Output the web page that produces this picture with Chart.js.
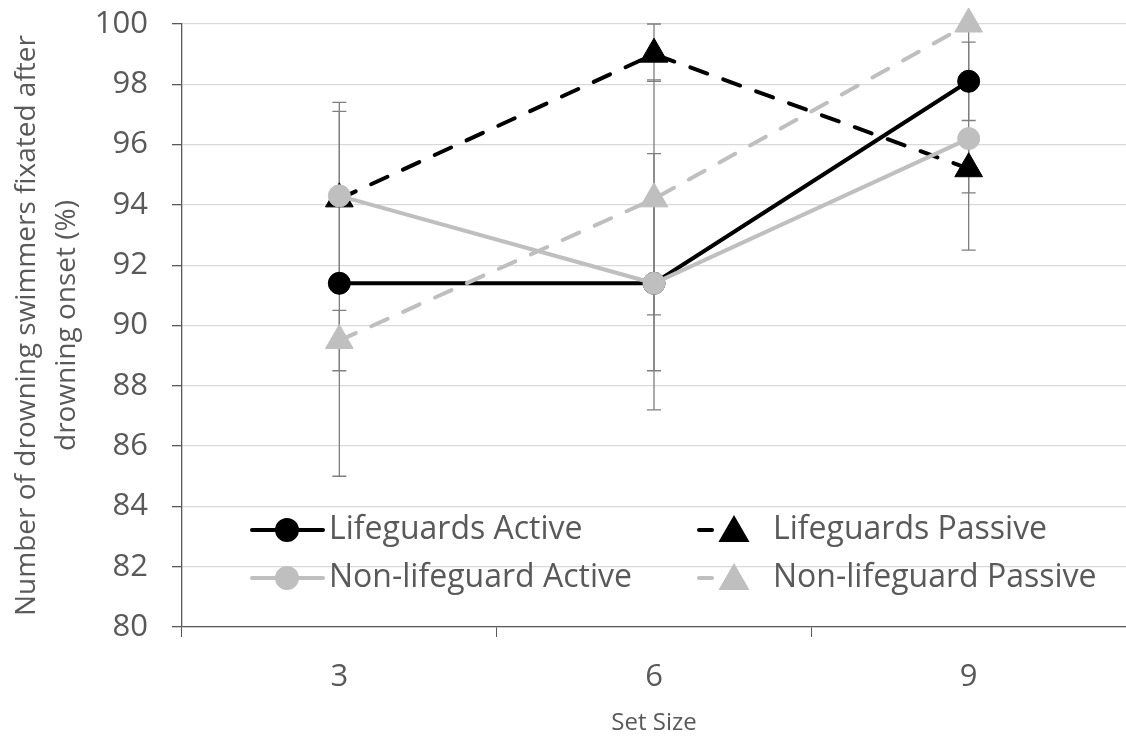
<!DOCTYPE html>
<html>
<head>
<meta charset="utf-8">
<script src="https://cdn.jsdelivr.net/npm/chart.js@4/dist/chart.umd.min.js"></script>
<style>
  html, body { margin: 0; padding: 0; background: #fff; overflow: hidden; }
  #wrap { width: 1126px; height: 740px; }
  canvas { display: block; }
</style>
</head>
<body>
<div id="wrap"><canvas id="chart" width="1126" height="740"></canvas></div>
<script>
// data
const setSizes = ['3', '6', '9'];
const yTicks = [80, 100, 2]; // min, max, step

const lifeguardsActive = [91.4, 91.4, 98.1];
const lifeguardsPassive = [94.2, 99.0, 95.2];
const nonLifeguardActive = [94.3, 91.4, 96.2];
const nonLifeguardPassive = [89.5, 94.2, 100];

// error bar ends (low / high)
const laLow = [85.0, 87.2, 96.8];
const laHigh = [97.4, 95.7, 99.4];
const lpLow = [94.2, 98.1, 94.4];
const lpHigh = [94.2, 100, 96.0];
const naLow = [91.5, 88.5, 92.5];
const naHigh = [97.1, 94.3, 99.9];
const npLow = [88.5, 90.35, 100];
const npHigh = [90.5, 98.15, 100];

const BLACK = '#000000';
const GREY = '#bfbfbf';
const TEXT = '#595959';
const FONT = "'Open Sans', sans-serif";

const errors = [
    { low: laLow, high: laHigh },
    { low: lpLow, high: lpHigh },
    { low: naLow, high: naHigh },
    { low: npLow, high: npHigh }
];

// error bars drawn underneath the lines
const errorBars = {
    id: 'errorBars',
    beforeDatasetsDraw(chart) {
        const { ctx, scales: { x, y } } = chart;
        ctx.save();
        ctx.strokeStyle = '#7f7f7f';
        ctx.lineWidth = 1.3;
        errors.forEach(e => {
            e.low.forEach((lo, i) => {
                const px = x.getPixelForValue(i);
                const yl = y.getPixelForValue(lo);
                const yh = y.getPixelForValue(e.high[i]);
                ctx.beginPath();
                ctx.moveTo(px, yl); ctx.lineTo(px, yh);
                ctx.moveTo(px - 7, yl); ctx.lineTo(px + 7, yl);
                ctx.moveTo(px - 7, yh); ctx.lineTo(px + 7, yh);
                ctx.stroke();
            });
        });
        ctx.restore();
    }
};

// legend inside the plot, two columns
const insideLegend = {
    id: 'insideLegend',
    afterDraw(chart) {
        const ctx = chart.ctx;
        const items = [
            { text: 'Lifeguards Active', color: BLACK, dash: false, style: 'circle', x: 250, tx: 329, y: 530 },
            { text: 'Lifeguards Passive', color: BLACK, dash: true, style: 'triangle', x: 697, tx: 773, y: 530 },
            { text: 'Non-lifeguard Active', color: GREY, dash: false, style: 'circle', x: 250, tx: 329, y: 578 },
            { text: 'Non-lifeguard Passive', color: GREY, dash: true, style: 'triangle', x: 697, tx: 773, y: 578 }
        ];
        ctx.save();
        items.forEach(it => {
            ctx.strokeStyle = it.color;
            ctx.fillStyle = it.color;
            ctx.lineWidth = 4;
            ctx.lineCap = 'round';
            ctx.beginPath();
            if (it.dash) {
                ctx.moveTo(it.x + 2, it.y); ctx.lineTo(it.x + 15, it.y);
            } else {
                ctx.moveTo(it.x + 2, it.y); ctx.lineTo(it.x + 73, it.y);
            }
            ctx.stroke();
            const cx = it.x + 37;
            Chart.helpers.drawPoint(ctx, {
                pointStyle: it.style, radius: it.style === 'circle' ? 10 : 14,
                borderWidth: 1, rotation: 0
            }, cx, it.style === 'circle' ? it.y : it.y + 3);
            ctx.fillStyle = TEXT;
            ctx.font = '32px ' + FONT;
            ctx.textBaseline = 'middle';
            ctx.textAlign = 'left';
            ctx.fillText(it.text, it.tx, it.y);
        });
        ctx.restore();
    }
};

const lineSet = (label, data, color, dashed, style, order) => ({
    label,
    data,
    borderColor: color,
    backgroundColor: color,
    borderWidth: 4,
    borderDash: dashed ? [18, 17] : [],
    borderCapStyle: dashed ? 'round' : 'butt',
    pointStyle: style,
    pointRadius: style === 'circle' ? 11 : 16,
    pointBorderWidth: 1,
    pointBackgroundColor: color,
    pointBorderColor: color,
    tension: 0,
    clip: false,
    order
});

new Chart(document.getElementById('chart'), {
    type: 'line',
    data: {
        labels: setSizes,
        datasets: [
            lineSet('Lifeguards Active', lifeguardsActive, BLACK, false, 'circle', 4),
            lineSet('Lifeguards Passive', lifeguardsPassive, BLACK, true, 'triangle', 3),
            lineSet('Non-lifeguard Active', nonLifeguardActive, GREY, false, 'circle', 2),
            lineSet('Non-lifeguard Passive', nonLifeguardPassive, GREY, true, 'triangle', 1)
        ]
    },
    options: {
        responsive: false,
        animation: false,
        layout: { autoPadding: false, padding: { top: 24, right: 0, left: 0, bottom: 0 } },
        plugins: {
            legend: { display: false },
            tooltip: { enabled: false }
        },
        scales: {
            x: {
                offset: true,
                grid: {
                    offset: true,
                    drawOnChartArea: false,
                    drawTicks: true,
                    tickLength: 10,
                    tickColor: TEXT
                },
                border: { color: TEXT, width: 1.3 },
                ticks: { color: TEXT, font: { family: FONT, size: 31 }, padding: 22 },
                title: {
                    display: true,
                    text: 'Set Size',
                    color: TEXT,
                    font: { family: FONT, size: 24 },
                    padding: { top: 6, bottom: 2 }
                },
                afterFit(scale) {
                    scale.height = 113;
                    scale.paddingLeft = 0;
                    scale.paddingRight = 0;
                }
            },
            y: {
                min: yTicks[0],
                max: yTicks[1],
                ticks: {
                    stepSize: yTicks[2],
                    color: TEXT,
                    font: { family: FONT, size: 31 },
                    padding: 24
                },
                grid: {
                    color: '#d9d9d9',
                    lineWidth: 1.3,
                    drawTicks: true,
                    tickLength: 10,
                    tickColor: TEXT
                },
                border: { color: TEXT, width: 1.3 },
                title: {
                    display: true,
                    text: ['Number of drowning swimmers fixated after', 'drowning onset (%)'],
                    color: TEXT,
                    font: { family: FONT, size: 28, lineHeight: 1.43 },
                    padding: { top: 7, bottom: 0 }
                },
                afterFit(scale) {
                    scale.width = 182;
                    scale.paddingTop = 0;
                    scale.paddingBottom = 0;
                }
            }
        }
    },
    plugins: [errorBars, insideLegend]
});
</script>
</body>
</html>
